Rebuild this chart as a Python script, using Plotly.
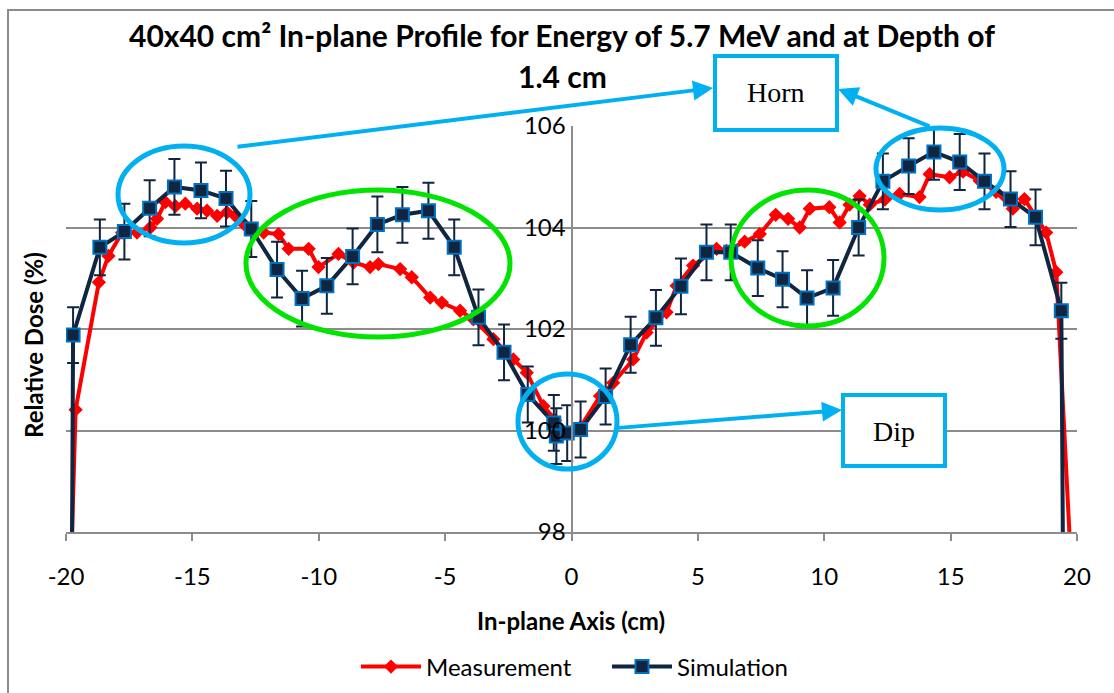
import plotly.graph_objects as go

# In-plane dose profile, 40x40 cm2 field, 5.7 MeV, depth 1.4 cm
meas_x = [-19.85, -19.62, -18.7, -18.32, -17.78, -17.19, -16.66, -16.4, -16.07, -15.67,
          -15.28, -14.81, -14.42, -14.02, -13.63, -13.3, -12.97, -12.18, -11.59, -11.19,
          -10.4, -10.01, -9.22, -8.62, -7.97, -7.64, -6.78, -6.32, -5.59, -5.13,
          -4.41, -3.88, -3.09, -2.3, -1.77, -1.11, -0.65, -0.19, 0.34, 1.13,
          1.65, 2.44, 2.97, 3.76, 4.16, 4.81, 5.74, 6.13, 6.85, 7.45,
          8.08, 8.57, 9.03, 9.43, 10.2, 10.61, 11.0, 11.4, 11.8, 12.4,
          12.98, 13.77, 14.17, 14.96, 15.49, 16.15, 16.8, 17.46, 17.92, 18.78,
          19.18, 19.85]
meas_y = [96.4, 100.41, 102.92, 103.44, 103.9, 103.9, 104.0, 104.17, 104.5, 104.42,
          104.47, 104.37, 104.33, 104.23, 104.3, 104.23, 104.07, 103.9, 103.87, 103.58,
          103.58, 103.22, 103.48, 103.31, 103.22, 103.28, 103.18, 103.02, 102.62, 102.52,
          102.36, 102.19, 101.8, 101.4, 101.14, 100.48, 100.2, 99.95, 100.06, 100.68,
          100.94, 101.4, 101.93, 102.33, 102.85, 103.25, 103.58, 103.54, 103.72, 103.87,
          104.25, 104.17, 104.0, 104.37, 104.4, 104.1, 104.45, 104.62, 104.45, 104.55,
          104.66, 104.6, 105.05, 104.99, 105.1, 104.92, 104.7, 104.37, 104.56, 103.9,
          103.12, 96.5]

sim_x = [-19.8, -19.72, -18.66, -17.69, -16.69, -15.71, -14.66, -13.67, -12.67, -11.65,
         -10.66, -9.68, -8.66, -7.68, -6.69, -5.66, -4.64, -3.68, -2.67, -1.73,
         -0.7, -0.6, -0.17, 0.36, 1.35, 2.34, 3.34, 4.33, 5.34, 6.3,
         7.37, 8.35, 9.32, 10.35, 11.36, 12.32, 13.34, 14.34, 15.36, 16.34,
         17.37, 18.36, 19.38, 19.5]
sim_y = [94.0, 101.88, 103.61, 103.92, 104.38, 104.8, 104.73, 104.57, 103.97, 103.17,
         102.6, 102.85, 103.43, 104.06, 104.25, 104.33, 103.61, 102.23, 101.54, 100.71,
         100.15, 99.89, 99.95, 100.02, 100.67, 101.69, 102.22, 102.84, 103.51, 103.51,
         103.2, 102.98, 102.61, 102.81, 104.0, 104.91, 105.21, 105.49, 105.29, 104.91,
         104.56, 104.2, 102.36, 93.5]
sim_err = [0.55, 0.55, 0.55, 0.55, 0.55, 0.55, 0.55, 0.55, 0.55, 0.55,
           0.55, 0.55, 0.55, 0.55, 0.55, 0.55, 0.55, 0.55, 0.55, 0.55,
           0.55, 0.55, 0.55, 0.55, 0.55, 0.55, 0.55, 0.55, 0.55, 0.55,
           0.55, 0.55, 0.55, 0.55, 0.55, 0.55, 0.55, 0.55, 0.55, 0.55,
           0.55, 0.55, 0.55, 0.55]

x_ticks = [-20, -15, -10, -5, 0, 5, 10, 15, 20]
y_ticks = [98, 100, 102, 104, 106]

W, H = 1114, 693
L, R, T, B = 66, 37, 126, 161
PW, PH = W - L - R, H - T - B

def px(xp):
    return (xp - L) / PW

def py(yp):
    return (H - B - yp) / PH

SANS = "Lato, 'Open Sans', sans-serif"
SERIF = "'Liberation Serif', 'DejaVu Serif', serif"
NAVY = "#10253F"
CYAN = "#00B0F0"
GREEN = "#00E400"
GRID = "#8C8C8C"

fig = go.Figure()
fig.add_trace(go.Scatter(
    x=meas_x, y=meas_y, mode="lines+markers", name="Measurement",
    line=dict(color="#FF0000", width=4),
    marker=dict(symbol="diamond", size=11, color="#FF0000"),
))
fig.add_trace(go.Scatter(
    x=sim_x, y=sim_y, mode="lines+markers", name="Simulation",
    line=dict(color=NAVY, width=4),
    marker=dict(symbol="square", size=13, color=NAVY, line=dict(color="#0070C0", width=2)),
    error_y=dict(type="data", array=sim_err, color=NAVY, thickness=2, width=6),
))

shapes = []
# outer chart frame
shapes.append(dict(type="rect", xref="paper", yref="paper", layer="below",
                   x0=px(8), x1=px(1130), y0=py(10), y1=py(710),
                   line=dict(color=GRID, width=2)))
# highlighted regions
for (x0, x1, y0, y1, c) in [(118, 250, 146, 243, CYAN), (246, 510, 190, 337, GREEN),
                            (518, 617, 374, 469, CYAN), (731, 884, 190, 326, GREEN),
                            (876, 1004, 128, 210, CYAN)]:
    shapes.append(dict(type="circle", xref="paper", yref="paper",
                       x0=px(x0), x1=px(x1), y0=py(y1), y1=py(y0),
                       line=dict(color=c, width=5)))
# label boxes
for (x0, x1, y0, y1) in [(715, 837, 56, 130), (843, 945, 395, 466)]:
    shapes.append(dict(type="rect", xref="paper", yref="paper",
                       x0=px(x0), x1=px(x1), y0=py(y1), y1=py(y0),
                       fillcolor="white", line=dict(color=CYAN, width=4)))

def label(text, x, y, size, family=SANS, bold=False, angle=0):
    return dict(text=text, xref="paper", yref="paper", x=px(x), y=py(y),
                xanchor="center", yanchor="middle", showarrow=False, textangle=angle,
                font=dict(family=family, size=size, color="black",
                          weight="bold" if bold else "normal"))

annotations = [
    label("40x40 cm² In-plane Profile for Energy of 5.7 MeV and at Depth of", 562, 35, 30, bold=True),
    label("1.4 cm", 562, 76, 30, bold=True),
    label("Horn", 776, 92, 28, family=SERIF),
    label("Dip", 894, 431, 28, family=SERIF),
    label("In-plane Axis (cm)", 571, 620, 24, bold=True),
    label("Relative Dose (%)", 33, 345, 24, bold=True, angle=-90),
]
# pointer arrows: (tail, head) in pixels
for (tx, ty, hx, hy) in [(236, 147, 713, 88), (931, 127, 838, 89), (617, 428, 842, 410)]:
    annotations.append(dict(text="", xref="paper", yref="paper", x=px(hx), y=py(hy),
                            ax=tx - hx, ay=ty - hy, showarrow=True, arrowhead=2,
                            arrowsize=1, arrowwidth=4, arrowcolor=CYAN, standoff=0))

fig.update_layout(
    width=W, height=H,
    margin=dict(l=L, r=R, t=T, b=B, autoexpand=False),
    paper_bgcolor="white", plot_bgcolor="white",
    showlegend=True,
    legend=dict(orientation="h", x=px(356), y=py(667), xanchor="left", yanchor="middle",
                entrywidth=176, entrywidthmode="pixels",
                font=dict(family=SANS, size=24, color="black"), itemwidth=60),
    xaxis=dict(range=[-20, 20], tickvals=x_ticks, ticktext=[str(v) for v in x_ticks],
               showgrid=False, zeroline=False, showline=True, linecolor=GRID, linewidth=2,
               ticks="outside", ticklen=7, tickcolor=GRID, tickwidth=2,
               ticklabelstandoff=15, automargin=False,
               tickfont=dict(family=SANS, size=24, color="black")),
    yaxis=dict(range=[98, 106], tickvals=y_ticks, ticktext=[str(v) for v in y_ticks],
               anchor="free", position=0.5, automargin=False,
               showgrid=True, gridcolor=GRID, gridwidth=2, zeroline=False,
               showline=True, linecolor=GRID, linewidth=2, ticks="",
               tickfont=dict(family=SANS, size=24, color="black")),
    shapes=shapes,
    annotations=annotations,
)

fig.write_html("out.html")
